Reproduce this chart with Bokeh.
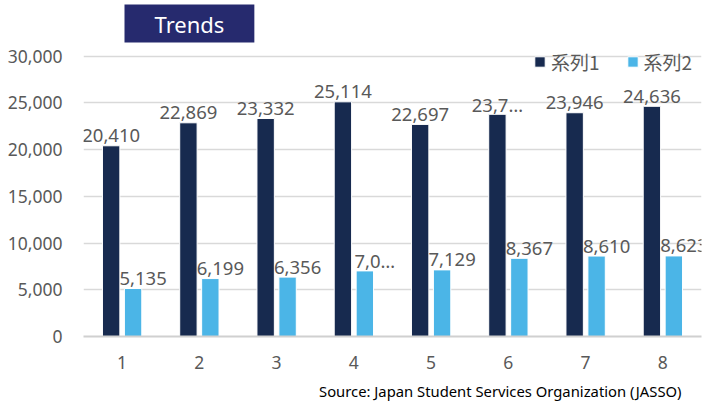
from bokeh.plotting import figure
from bokeh.models import (ColumnDataSource, FactorRange, Range1d, Legend, Title,
                          LegendItem, NumeralTickFormatter, FixedTicker)
from bokeh.transform import dodge
from bokeh.core.properties import value
from bokeh.embed import file_html
from bokeh.resources import INLINE

categories = ["1", "2", "3", "4", "5", "6", "7", "8"]
series1 = [20410, 22869, 23332, 25114, 22697, 23780, 23946, 24636]
series2 = [5135, 6199, 6356, 7021, 7129, 8367, 8610, 8623]
labels1 = ["20,410", "22,869", "23,332", "25,114", "22,697", "23,7…", "23,946", "24,636"]
labels2 = ["5,135", "6,199", "6,356", "7,0…", "7,129", "8,367", "8,610", "8,623"]
y_ticks = [0, 5000, 10000, 15000, 20000, 25000, 30000]
series_names = ["系列1", "系列2"]

DARK = "#172A4F"
LIGHT = "#4BB5E7"
GREY = "#595959"
FONT = "Noto Sans"

src = ColumnDataSource(dict(cat=categories, s1=series1, s2=series2, l1=labels1, l2=labels2))

# the y range reaches a little above the top tick so the legend sits in the frame
p = figure(x_range=FactorRange(*categories, range_padding=0), y_range=Range1d(0, 31250),
           width=707, height=407, output_backend="svg", toolbar_location=None,
           min_border_left=83, min_border_right=6, min_border_top=43, min_border_bottom=70)
p.outline_line_color = None
p.background_fill_color = "white"
p.title.visible = False

r1 = p.vbar(x=dodge("cat", -0.142, range=p.x_range), top="s1", width=0.225, source=src,
            fill_color=DARK, line_color="white", line_width=1)
r2 = p.vbar(x=dodge("cat", 0.142, range=p.x_range), top="s2", width=0.225, source=src,
            fill_color=LIGHT, line_color="white", line_width=1)

p.text(x=dodge("cat", -0.142, range=p.x_range), y="s1", text="l1", source=src,
       text_align="center", text_baseline="alphabetic", y_offset=-10,
       text_font=value(FONT), text_font_size="18.5px", text_color=GREY)
p.text(x=dodge("cat", 0.142, range=p.x_range), y="s2", text="l2", source=src,
       text_align="center", text_baseline="alphabetic", y_offset=-10, x_offset=10,
       text_font=value(FONT), text_font_size="18.5px", text_color=GREY)

p.yaxis.ticker = FixedTicker(ticks=y_ticks)
p.yaxis.formatter = NumeralTickFormatter(format="0,0")
p.yaxis.axis_line_color = None
p.yaxis.major_tick_line_color = None
p.yaxis.major_tick_out = 0
p.yaxis.minor_tick_line_color = None
p.yaxis.major_label_standoff = 21
p.yaxis.major_label_text_font = FONT
p.yaxis.major_label_text_font_size = "17.5px"
p.yaxis.major_label_text_color = GREY

p.xaxis.axis_line_color = "#D0D0D0"
p.xaxis.axis_line_width = 2
p.xaxis.major_tick_line_color = None
p.xaxis.major_tick_out = 0
p.xaxis.minor_tick_line_color = None
p.xaxis.major_label_standoff = 19
p.xaxis.major_label_text_font = FONT
p.xaxis.major_label_text_font_size = "17.5px"
p.xaxis.major_label_text_color = GREY

p.xgrid.grid_line_color = None
p.ygrid.grid_line_color = "#D9D9D9"
p.ygrid.grid_line_width = 1.5

legend = Legend(items=[LegendItem(label=series_names[0], renderers=[r1]),
                       LegendItem(label=series_names[1], renderers=[r2])],
                orientation="horizontal", location=(450, 261),
                glyph_width=13, glyph_height=13, label_standoff=5, spacing=26,
                margin=0, padding=0, border_line_color=None, background_fill_alpha=0,
                label_text_font="Noto Sans CJK JP", label_text_font_size="19px",
                label_text_color=GREY)
p.add_layout(legend, "center")

p.add_layout(Title(text="Trends", align="left", offset=41, standoff=4,
                   text_color="white", text_font=FONT, text_font_size="22px",
                   text_font_style="normal", background_fill_color="#262A6E",
                   padding=dict(left=30, right=30, top=4, bottom=4)), "above")
p.add_layout(Title(text="Source: Japan Student Services Organization (JASSO)",
                   align="right", offset=20, standoff=14, text_color="black",
                   text_font=FONT, text_font_size="14.8px", text_font_style="normal"),
             "below")

open("out.html", "w").write(file_html(p, INLINE))
